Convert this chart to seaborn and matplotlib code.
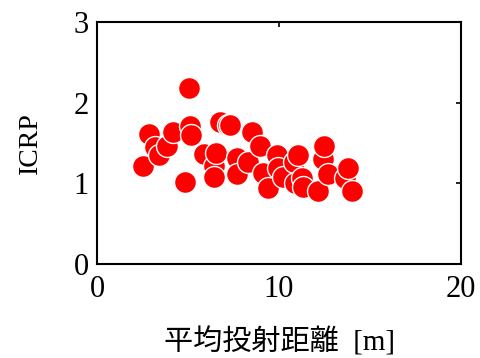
import matplotlib
matplotlib.use("Agg")
import matplotlib.pyplot as plt
import seaborn as sns
import pandas as pd

# Mean projection distance [m] and ICRP value for each measurement
distance = [2.53, 2.84, 3.17, 3.38, 3.85, 4.18, 4.85, 5.08, 5.09, 5.18,
            5.86, 6.41, 6.45, 6.52, 6.77, 7.18, 7.32, 7.69, 7.69, 8.31,
            8.52, 8.97, 9.14, 9.41, 9.89, 9.95, 10.24, 10.8, 10.9, 11.06,
            11.26, 11.3, 12.16, 12.43, 12.49, 12.71, 13.64, 13.81, 14.01]
icrp = [1.22, 1.61, 1.45, 1.35, 1.46, 1.64, 1.02, 2.18, 1.71, 1.60,
        1.36, 1.22, 1.08, 1.38, 1.76, 1.72, 1.72, 1.31, 1.11, 1.27,
        1.64, 1.46, 1.13, 0.94, 1.35, 1.19, 1.08, 1.27, 1.01, 1.35,
        1.07, 0.96, 0.90, 1.30, 1.46, 1.11, 1.06, 1.19, 0.90]

x_ticks = [0, 10, 20]
y_ticks = [0, 1, 2, 3]

df = pd.DataFrame({"distance": distance, "icrp": icrp})

sns.set_theme(style="white")
plt.rcParams["font.family"] = ["Liberation Serif", "Noto Sans CJK JP"]

fig = plt.figure(figsize=(4.81, 3.58), dpi=100)
ax = fig.add_axes([97 / 481, 1 - 264 / 358, 364 / 481, 242 / 358])

sns.scatterplot(data=df, x="distance", y="icrp", ax=ax, color="#ff0000",
                s=250, edgecolor="white", linewidth=1.0, zorder=3)

ax.set_xlim(0, 20)
ax.set_ylim(0, 3)
ax.set_xticks(x_ticks)
ax.set_yticks(y_ticks)
ax.tick_params(direction="in", length=3.5, width=1.2, top=True, right=True,
               labelsize=22, colors="black")
ax.tick_params(axis="y", pad=6)
ax.tick_params(axis="x", pad=8)
for sp in ax.spines.values():
    sp.set_visible(True)
    sp.set_linewidth(1.5)
    sp.set_color("black")

ax.set_xlabel("平均投射距離  [m]", fontsize=21, labelpad=16.5, color="black")
ax.set_ylabel("ICRP", fontsize=20, labelpad=22, color="black")

fig.savefig("out.png", dpi=100, facecolor="white")
